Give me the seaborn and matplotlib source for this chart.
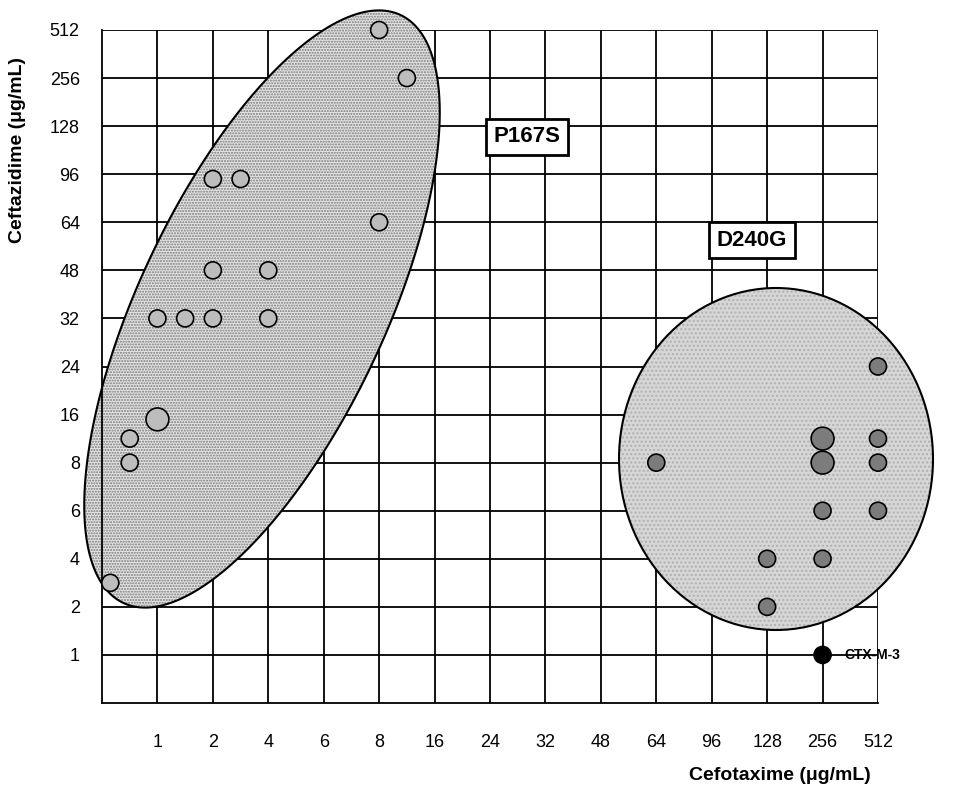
import numpy as np
import pandas as pd
import matplotlib
matplotlib.use("Agg")
import matplotlib.pyplot as plt
from matplotlib.patches import Polygon, Ellipse
import seaborn as sns

# ---------- data (positions are index on categorical MIC scale) ----------
TICKS = ["1", "2", "4", "6", "8", "16", "24", "32", "48", "64", "96", "128", "256", "512"]
Y_TICKS = ["1", "2", "4", "6", "8", "16", "24", "32", "48", "64", "96", "128", "256", "512"]

p167s_x = [0.15, 0.5, 0.5, 1, 1, 1.5, 2, 3, 2, 3, 2, 2.5, 5, 5, 5.5]
p167s_y = [2.5, 5.5, 5, 5.9, 8, 8, 8, 8, 9, 9, 10.9, 10.9, 10, 14, 13]
p167s_big = [0, 0, 0, 1, 0, 0, 0, 0, 0, 0, 0, 0, 0, 0, 0]

d240g_x = [10, 13, 13, 13, 13, 12, 12, 14, 14, 14, 14]
d240g_y = [5, 5.5, 5, 4, 3, 3, 2, 7, 5.5, 5, 4]
d240g_big = [0, 1, 1, 0, 0, 0, 0, 0, 0, 0, 0]

ctx_x, ctx_y = [13], [1]

df = pd.DataFrame({
    "x": p167s_x + d240g_x + ctx_x,
    "y": p167s_y + d240g_y + ctx_y,
    "big": p167s_big + d240g_big + [0],
    "group": ["P167S"] * len(p167s_x) + ["D240G"] * len(d240g_x) + ["CTX-M-3"],
})
PALETTE = {"P167S": "#bdbdbd", "D240G": "#7c7c7c", "CTX-M-3": "#000000"}

sns.set_style("white")
plt.rcParams["font.family"] = ["Liberation Sans", "DejaVu Sans"]
plt.rcParams["text.color"] = "black"
plt.rcParams["xtick.color"] = "black"
plt.rcParams["ytick.color"] = "black"

fig = plt.figure(figsize=(9.71, 8.0), dpi=100)
ax = fig.add_axes([102 / 971, 97 / 800, 776 / 971, 673 / 800])
ax.set_xlim(0, 14)
ax.set_ylim(0, 14)
XU, YU = 776 / 14, 673 / 14  # px per unit

# grid
for v in range(1, 15):
    ax.axvline(v, color="black", lw=1.3, zorder=1)
    ax.axhline(v, color="black", lw=1.3, zorder=1)
for s in ["top", "right"]:
    ax.spines[s].set_visible(False)
for s in ["left", "bottom"]:
    ax.spines[s].set_linewidth(1.3)
    ax.spines[s].set_color("black")

# P167S ellipse, defined in pixel space then mapped to data units
cx, cy, a, b, th = 262 - 102, 703 - 309, 325, 123, np.deg2rad(64.75)
t = np.linspace(0, 2 * np.pi, 300)
px = cx + a * np.cos(t) * np.cos(th) - b * np.sin(t) * np.sin(th)
py = cy + a * np.cos(t) * np.sin(th) + b * np.sin(t) * np.cos(th)
pts = np.column_stack([px / XU, py / YU])
ax.add_patch(Polygon(pts, facecolor="#e4e4e4", edgecolor="#7a7a7a", hatch="......",
                     lw=0, zorder=2, clip_on=False))
ax.add_patch(Polygon(pts, facecolor="none", edgecolor="black", lw=1.5, zorder=2.5, clip_on=False))

# D240G ellipse
ecx, ecy = (776 - 102) / XU, (703 - 459) / YU
ax.add_patch(Ellipse((ecx, ecy), 2 * 157 / XU, 2 * 171 / YU, facecolor="#d6d6d6",
                     edgecolor="#b0b0b0", hatch="....", lw=0, zorder=2, clip_on=False))
ax.add_patch(Ellipse((ecx, ecy), 2 * 157 / XU, 2 * 171 / YU, facecolor="none",
                     edgecolor="black", lw=1.5, zorder=2.5, clip_on=False))

sns.scatterplot(data=df, x="x", y="y", hue="group", palette=PALETTE, size="big",
                sizes={0: 150, 1: 270}, edgecolor="black", linewidth=1.2,
                legend=False, ax=ax, zorder=5, clip_on=False)

ax.set_xticks(range(1, 15))
ax.set_xticklabels(TICKS, fontsize=13)
ax.set_yticks(range(1, 15))
ax.set_yticklabels(Y_TICKS, fontsize=13)
ax.tick_params(length=0, pad=22)
ax.tick_params(axis="y", pad=16)
ax.set_xlabel("")
ax.set_ylabel("")

box = dict(boxstyle="square,pad=0.35", facecolor="white", edgecolor="black", lw=2)
ax.text((527 - 102) / XU, (703 - 137) / YU, "P167S", fontsize=16, fontweight="bold",
        ha="center", va="center", bbox=box, zorder=6)
ax.text((752 - 102) / XU, (703 - 240) / YU, "D240G", fontsize=16, fontweight="bold",
        ha="center", va="center", bbox=box, zorder=6)
ax.text(13.4, 1, "CTX-M-3", fontsize=10, fontweight="bold", ha="left", va="center",
        clip_on=False)

fig.text(18 / 971, 1 - 150 / 800, "Ceftazidime (\u03bcg/mL)", rotation=90, fontsize=14,
         fontweight="bold", ha="center", va="center")
fig.text(780 / 971, 1 - 775 / 800, "Cefotaxime (\u03bcg/mL)", fontsize=14,
         fontweight="bold", ha="center", va="center")

fig.savefig("out.png", dpi=100)
